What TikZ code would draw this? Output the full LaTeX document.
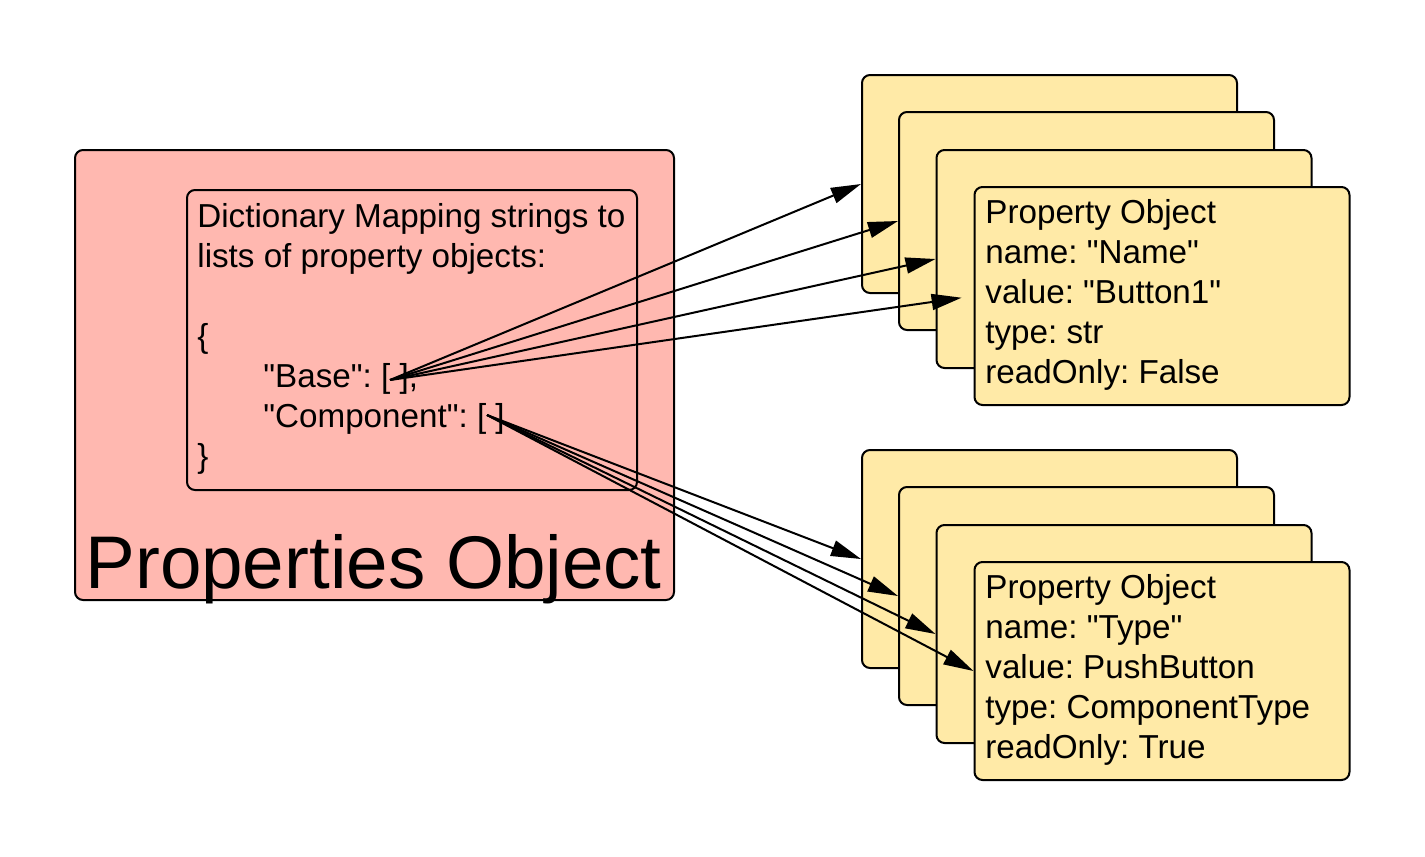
\documentclass[tikz,border=0pt]{standalone}
\usepackage{fontspec}
\newfontfamily\plainfont{Liberation Sans}
\usetikzlibrary{arrows.meta}
\definecolor{pinkfill}{HTML}{FFB8B0}
\definecolor{cardfill}{HTML}{FFEAA7}
\frenchspacing
\begin{document}
\begin{tikzpicture}[x=0.5pt,y=-0.5pt,
  box/.style={draw=black, line width=1pt, rounded corners=4pt, inner sep=0pt},
  card/.style={box, fill=cardfill, minimum width=187.5pt, minimum height=109pt},
  txt/.style={anchor=base west, inner sep=0pt, font=\plainfont\fontsize{16.6}{20}\selectfont\frenchspacing},
  bigtxt/.style={anchor=base west, inner sep=0pt, font=\plainfont\fontsize{37.3}{44}\selectfont},
  conn/.style={line width=1pt, -{Triangle[length=15pt,width=8pt]}}]
\useasboundingbox (0,0) rectangle (1425,857);
% properties object
\node[box, fill=pinkfill, minimum width=299.5pt, minimum height=225pt] (outer) at (374.5,375) {};
\node[box, minimum width=225pt, minimum height=150pt] (inner) at (412,340) {};
\node[txt] (d1) at (197,227) {Dictionary Mapping strings to};
\node[txt] (d2) at (197,267) {lists of property objects:};
\node[txt] (d3) at (197,347) {\{};
\node[txt] (d4) at (263,387) {"Base": [ ],};
\node[txt] (d5) at (263,427) {"Component": [ ]};
\node[txt] (d6) at (197,467) {\}};
\node[bigtxt] (title) at (85,588) {Properties Object};
% top group of cards
\node[card] (t1) at (1049.5,184) {};
\node[card] (t2) at (1086.5,221) {};
\node[card] (t3) at (1124,259) {};
\node[card] (t4) at (1162,296) {};
\node[txt] (ta) at (985,223) {Property Object};
\node[txt] (tb) at (985,263) {name: "Name"};
\node[txt] (tc) at (985,303) {value: "Button1"};
\node[txt] (td) at (985,343) {type: str};
\node[txt] (te) at (985,383) {readOnly: False};
% bottom group of cards
\node[card] (b1) at (1049.5,559) {};
\node[card] (b2) at (1086.5,596) {};
\node[card] (b3) at (1124,634) {};
\node[card] (b4) at (1162,671) {};
\node[txt] (ba) at (985,598) {Property Object};
\node[txt] (bb) at (985,638) {name: "Type"};
\node[txt] (bc) at (985,678) {value: PushButton};
\node[txt] (bd) at (985,718) {type: ComponentType};
\node[txt] (be) at (985,758) {readOnly: True};
% connectors
\coordinate (bo) at (390,380);
\coordinate (co) at (487,415);
\draw[conn] (bo) -- (t1.west);
\draw[conn] (bo) -- (t2.west);
\draw[conn] (bo) -- (t3.west);
\draw[conn, shorten >=6pt] (bo) -- (t4.west);
\draw[conn] (co) -- (b1.west);
\draw[conn] (co) -- (b2.west);
\draw[conn] (co) -- (b3.west);
\draw[conn] (co) -- (b4.west);
\end{tikzpicture}
\end{document}
